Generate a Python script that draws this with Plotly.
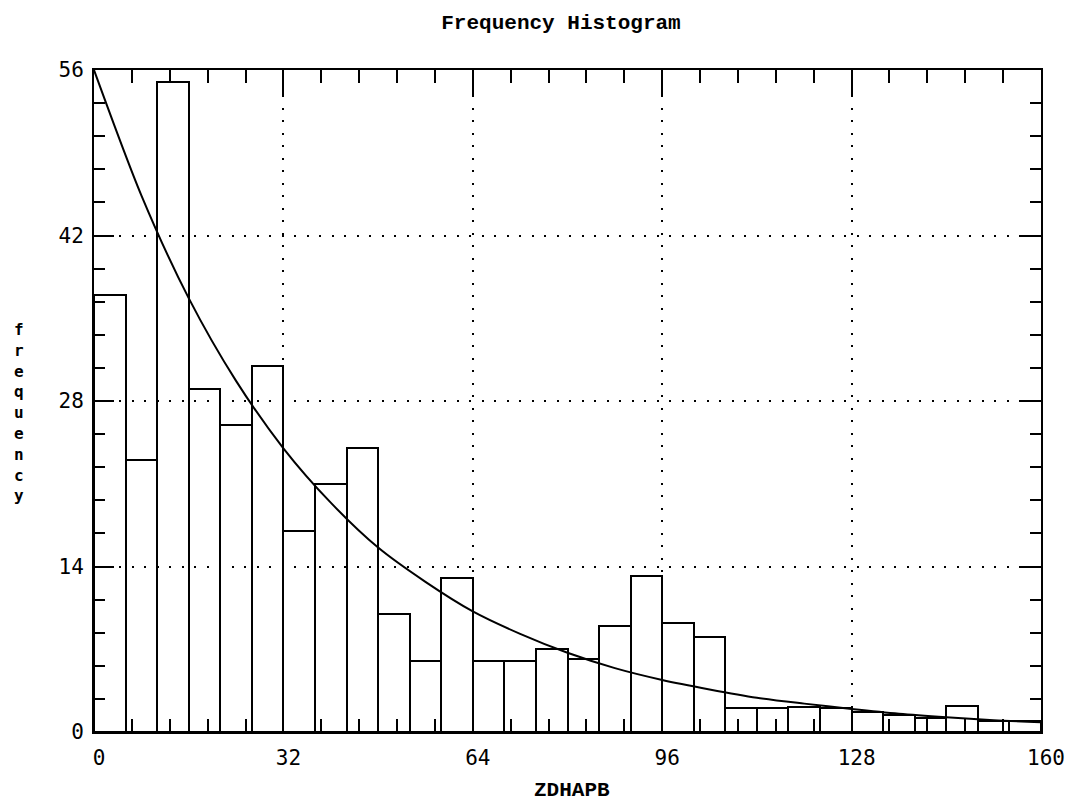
import numpy as np
import plotly.graph_objects as go

# Histogram: 30 equal bins spanning 0..160
bin_lo, bin_hi, n_bins = 0.0, 160.0, 30
freq = [37, 23, 55, 29, 26, 31, 17, 21, 24, 10,
        6, 13, 6, 6, 7, 6.2, 9, 13.2, 9.2, 8,
        2, 2, 2.1, 2, 1.7, 1.4, 1.2, 2.2, 0.9, 0.9]

# Fitted decay curve, sampled every 8 units
curve_x = [0, 8, 16, 24, 32, 40, 48, 56, 64, 72, 80,
           88, 96, 104, 112, 120, 128, 136, 144, 152, 160]
curve_y = [56, 45.4, 36.7, 29.7, 24.0, 19.4, 15.6, 12.7, 10.2, 8.3, 6.7,
           5.4, 4.4, 3.6, 2.9, 2.4, 1.95, 1.55, 1.25, 1.0, 0.82]

x_ticks = [0, 32, 64, 96, 128, 160]
y_ticks = [0, 14, 28, 42, 56]

edges = np.linspace(bin_lo, bin_hi, n_bins + 1)
centers = (edges[:-1] + edges[1:]) / 2
width = edges[1] - edges[0]

FONT = "DejaVu Sans Mono"
LABEL_FONT = "Liberation Mono"
INK = "black"

fig = go.Figure()
fig.add_trace(go.Bar(
    x=centers, y=freq, width=width,
    marker=dict(color="rgba(0,0,0,0)", line=dict(color=INK, width=2)),
    showlegend=False, hoverinfo="skip",
))
fig.add_trace(go.Scatter(
    x=curve_x, y=curve_y, mode="lines",
    line=dict(color=INK, width=2, shape="spline", smoothing=0.8),
    showlegend=False, hoverinfo="skip",
))

axis_common = dict(
    showline=True, linecolor=INK, linewidth=2, mirror="allticks",
    ticks="inside", tickcolor=INK, tickwidth=2,
    showgrid=True, gridcolor=INK, gridwidth=2, griddash="2px,10.5px",
    zeroline=False, automargin=False,
    tickfont=dict(family=FONT, size=21, color=INK),
)

fig.update_xaxes(
    range=[bin_lo, bin_hi], tickvals=x_ticks, ticklen=26,
    ticklabelstandoff=6, ticklabelshift=5, ticklabeloverflow="allow",
    minor=dict(dtick=6.4, tick0=0, ticks="inside", ticklen=13,
               tickwidth=2, tickcolor=INK, showgrid=False),
    **axis_common,
)
fig.update_yaxes(
    range=[0, 56], tickvals=y_ticks, ticklen=20,
    ticklabelstandoff=4,
    minor=dict(dtick=2.8, tick0=0, ticks="inside", ticklen=11,
               tickwidth=2, tickcolor=INK, showgrid=False),
    **axis_common,
)

fig.update_layout(
    width=1065, height=802,
    margin=dict(l=94, r=24, t=70, b=70),
    paper_bgcolor="white", plot_bgcolor="white",
    bargap=0,
    title=dict(text="<b>Frequency Histogram</b>", x=561 / 1065, xanchor="center",
               y=1 - 22 / 802, yanchor="middle", yref="container",
               font=dict(family=LABEL_FONT, size=21, color=INK)),
    annotations=[
        dict(text="<b>ZDHAPB</b>", xref="paper", yref="paper",
             x=(572 - 94) / 947, y=(732 - 790) / 662,
             xanchor="center", yanchor="middle", showarrow=False,
             font=dict(family=LABEL_FONT, size=21, color=INK)),
        dict(text="<br>".join("<b>%s</b>" % c for c in "frequency"),
             xref="paper", yref="paper",
             x=(19 - 94) / 947, y=(732 - 412) / 662,
             xanchor="center", yanchor="middle", showarrow=False,
             font=dict(family=FONT, size=16, color=INK)),
    ],
)

fig.write_html("out.html")
